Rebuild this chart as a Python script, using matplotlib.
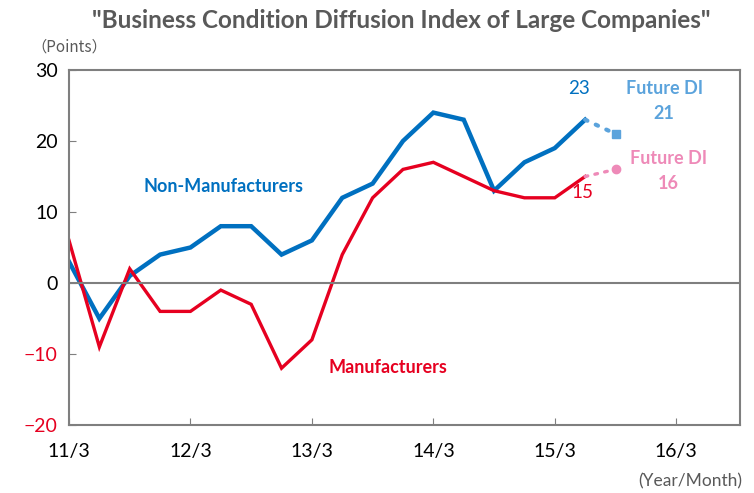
import matplotlib.pyplot as plt

plt.rcParams['font.family'] = ['Lato', 'DejaVu Sans']

# quarters from 11/3 onward (index 0 = 11/3)
tick_labels = ['11/3', '12/3', '13/3', '14/3', '15/3', '16/3']
non_mfg = [3, -5, 1, 4, 5, 8, 8, 4, 6, 12, 14, 20, 24, 23, 13, 17, 19, 23]
mfg = [6, -9, 2, -4, -4, -1, -3, -12, -8, 4, 12, 16, 17, 15, 13, 12, 12, 15]
non_mfg_future = 21
mfg_future = 16

blue = '#0070C0'
red = '#E60020'
lblue = '#5BA3DC'
pink = '#EE8AB8'
gray = '#595959'

fig = plt.figure(figsize=(7.54, 4.93), dpi=100)
ax = fig.add_axes([69 / 754, 1 - 425 / 493, 671 / 754, 355 / 493])

x = list(range(len(non_mfg)))
ax.plot(x, non_mfg, color=blue, lw=3.2, solid_joinstyle='miter')
ax.plot(x, mfg, color=red, lw=2.4, solid_joinstyle='miter')

xf = len(non_mfg)
ax.plot([x[-1], xf], [non_mfg[-1], non_mfg_future], color=lblue, lw=3, ls=(0, (0.6, 2.2)),
        dash_capstyle='round')
ax.plot([xf], [non_mfg_future], marker='s', ms=6, color=lblue)
ax.plot([x[-1], xf], [mfg[-1], mfg_future], color=pink, lw=2.4, ls=(0, (0.8, 2.2)),
        dash_capstyle='round')
ax.plot([xf], [mfg_future], marker='o', ms=6, color=pink)

ax.axhline(0, color='#7f7f7f', lw=1.5)

ax.set_xlim(0, 22.1)
ax.set_ylim(-20, 30)
ax.set_xticks(range(0, 21, 4))
ax.set_xticklabels(tick_labels)
ax.set_yticks(range(-20, 31, 10))
ax.tick_params(direction='in', length=5, color='#7f7f7f', labelsize=14, pad=8)
ax.tick_params(axis='x', pad=13)
for lab in ax.get_yticklabels():
    if lab.get_text().startswith('−') or lab.get_text().startswith('-'):
        lab.set_color(red)
for s in ax.spines.values():
    s.set_color('#7f7f7f')
    s.set_linewidth(1.5)

ax.text(16.8, 27.4, str(non_mfg[-1]), color=blue, fontsize=13.5, ha='center', va='center')
ax.text(16.9, 12.7, str(mfg[-1]), color=red, fontsize=13.5, ha='center', va='center')
ax.text(19.6, 25.6, 'Future DI\n21', color=lblue, fontsize=13, fontweight='bold',
        ha='center', va='center', linespacing=1.55)
ax.text(19.75, 15.8, 'Future DI\n16', color=pink, fontsize=13, fontweight='bold',
        ha='center', va='center', linespacing=1.55)
ax.text(5.1, 13.6, 'Non-Manufacturers', color=blue, fontsize=13, fontweight='bold',
        ha='center', va='center')
ax.text(10.5, -11.9, 'Manufacturers', color=red, fontsize=13, fontweight='bold',
        ha='center', va='center')

fig.text(401 / 754, 1 - 20 / 493, '"Business Condition Diffusion Index of Large Companies"',
         color=gray, fontsize=17.5, fontweight='bold', ha='center', va='center')
fig.text(31 / 754, 1 - 47 / 493, '（Points）', family=['Noto Sans CJK JP', 'DejaVu Sans'],
         color=gray, fontsize=11, ha='left', va='center')
fig.text(742 / 754, 1 - 481 / 493, '(Year/Month)', color=gray, fontsize=12.5, ha='right',
         va='center')

fig.savefig('out.png', dpi=100)
